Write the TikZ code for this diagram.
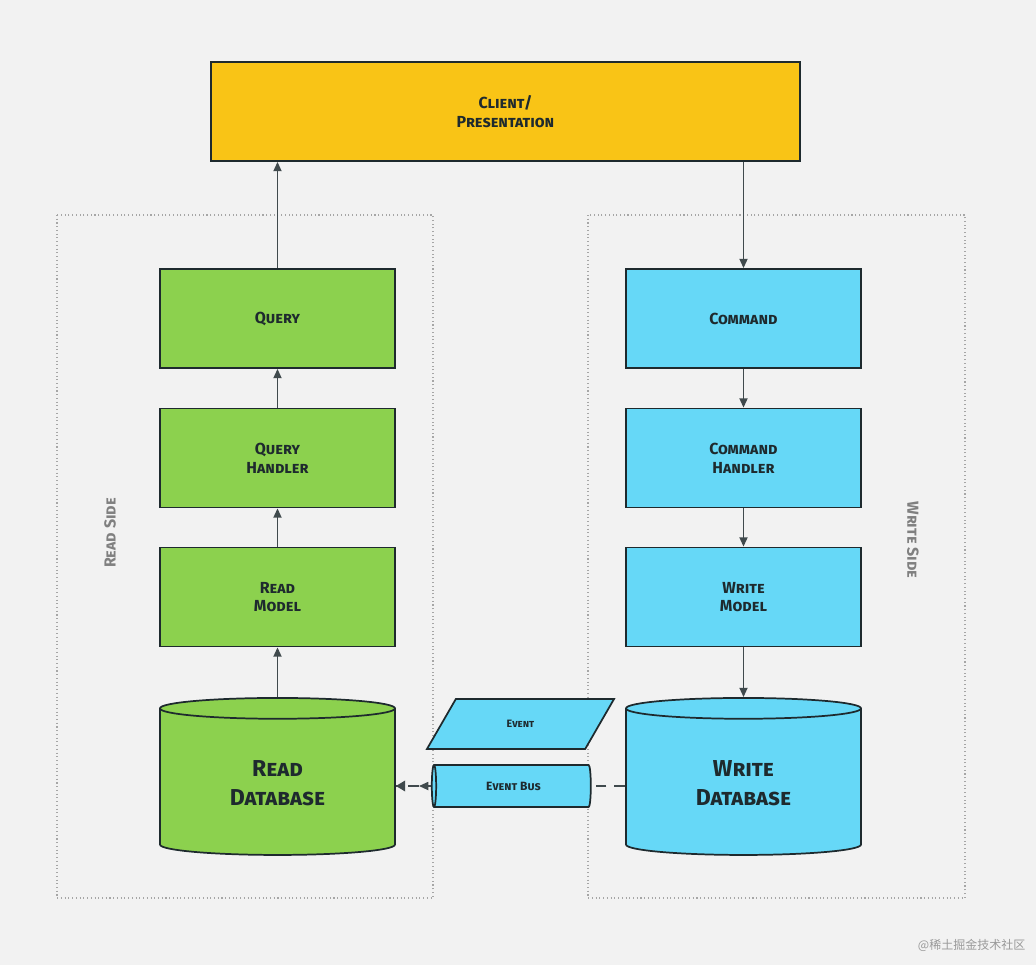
\documentclass[tikz,border=0pt]{standalone}
\usepackage{fontspec}
\setmainfont{Fira Sans}
\newfontfamily\cjkf{Noto Sans CJK SC}
\usetikzlibrary{shapes.geometric,arrows.meta}
\definecolor{bg}{HTML}{F2F2F2}
\definecolor{ylw}{HTML}{F9C416}
\definecolor{grn}{HTML}{8CD14E}
\definecolor{blu}{HTML}{66D8F7}
\definecolor{ink}{HTML}{1E2A2E}
\tikzset{
 box/.style={draw=ink,line width=1.3pt,minimum width=235*0.75pt,minimum height=99*0.75pt,align=center,font=\bfseries\scshape\large,text=ink},
 cyl/.style={draw=ink,line width=1.3pt,cylinder,shape border rotate=90,aspect=0.2,minimum width=235*0.75pt,minimum height=157*0.75pt,align=center,font=\bfseries\scshape\LARGE,text=ink},
 side/.style={draw=gray!70,dotted,line width=0.8pt},
 arr/.style={draw=ink!85,line width=1.3pt,-{Triangle[length=7pt,width=6pt]}},
 darr/.style={draw=ink!85,line width=1.3pt,dashed,dash pattern=on 8pt off 6pt},
 sidelbl/.style={text=gray,font=\bfseries\scshape\large}
}
\begin{document}
\begin{tikzpicture}[x=0.75pt,y=-0.75pt]
\fill[bg] (0,0) rectangle (1036,965);
\useasboundingbox (0,0) rectangle (1036,965);
\draw[side] (57,215) rectangle (433,898);
\draw[side] (588,215) rectangle (965,898);
\node[sidelbl,rotate=90] (rs) at (110,533) {Read Side};
\node[sidelbl,rotate=-90] (ws) at (913,540) {Write Side};
\node[box,fill=ylw,minimum width=589*0.75pt] (cl) at (505.5,111.5) {Client/\\Presentation};
\node[box,fill=grn] (q) at (277.5,318.5) {Query};
\node[box,fill=grn] (qh) at (277.5,458) {Query\\Handler};
\node[box,fill=grn] (rm) at (277.5,597) {Read\\Model};
\node[cyl,fill=grn] (rdb) at (277.5,783.5) {Read\\Database};
\node[box,fill=blu] (c) at (743.5,318.5) {Command};
\node[box,fill=blu] (ch) at (743.5,458) {Command\\Handler};
\node[box,fill=blu] (wm) at (743.5,597) {Write\\Model};
\node[cyl,fill=blu] (wdb) at (743.5,783.5) {Write\\Database};
\node[draw=ink,line width=1.3pt,fill=blu,cylinder,shape border rotate=180,aspect=0.25,minimum width=42*0.75pt,minimum height=159*0.75pt,font=\bfseries\scshape\small,text=ink] (eb) at (513.5,786) {Event Bus};
\node[draw=ink,line width=1.3pt,fill=blu,trapezium,trapezium left angle=60,trapezium right angle=120,minimum width=75*0.75pt,minimum height=50*0.75pt,inner sep=2pt,font=\bfseries\scshape\footnotesize,text=ink] (ev) at (520.5,724) {Event};
\draw[arr] (q.north) -- (q.north |- cl.south);
\draw[arr] (c.north |- cl.south) -- (c.north);
\draw[arr] (qh) -- (q);
\draw[arr] (rm) -- (qh);
\draw[arr] (rdb.north) -- (rm);
\draw[arr] (c) -- (ch);
\draw[arr] (ch) -- (wm);
\draw[arr] (wm) -- (wdb.north);
\draw[darr] (wdb.west |- eb.east) -- (eb.east);
\draw[darr,-{Triangle[length=7pt,width=6pt]},solid] (eb.west) -- ++(-12,0) coordinate (m);
\draw[darr] (m) -- (rdb.east |- eb.west) coordinate (r);
\draw[ink!85,-{Triangle[length=7pt,width=8pt]},line width=1.3pt] (r)++(8,0) coordinate (r2) -- (r);
\node[text=gray!80,font=\cjkf\small,anchor=east] (wmk) at (1030,945) {@稀土掘金技术社区};
\end{tikzpicture}
\end{document}
